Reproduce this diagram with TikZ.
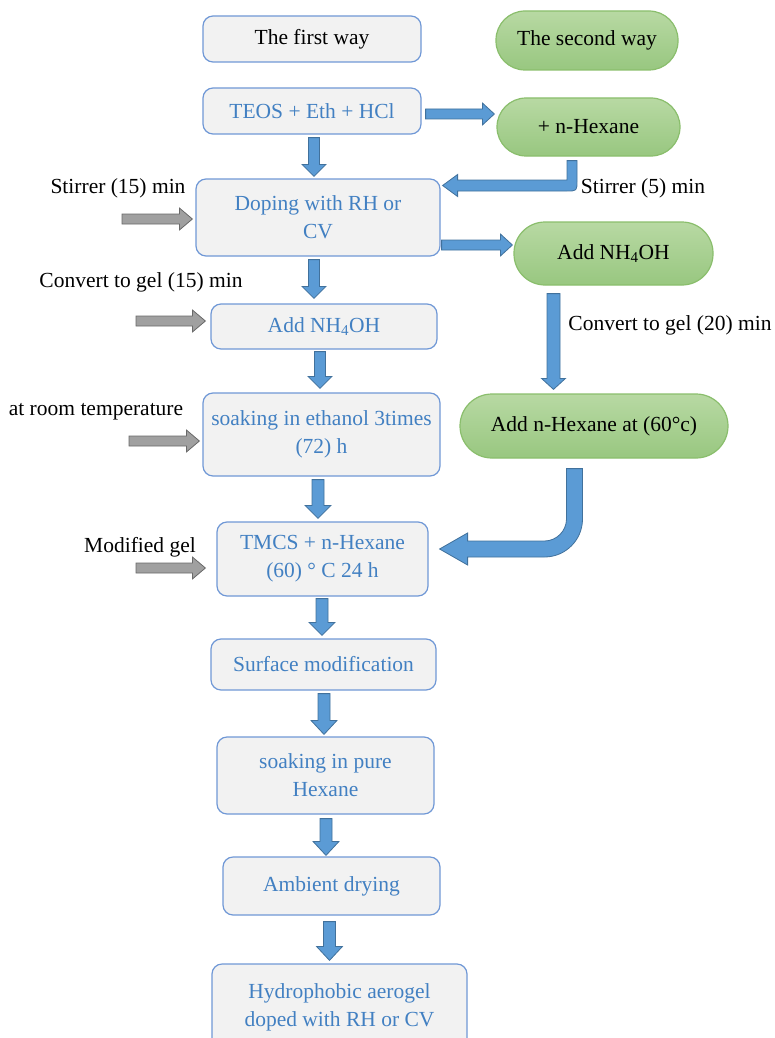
\documentclass[tikz,border=0pt]{standalone}
\usepackage{fontspec}
\setmainfont{Liberation Serif}
\usetikzlibrary{calc}
\definecolor{boxline}{RGB}{112,152,214}
\definecolor{boxfill}{RGB}{242,242,242}
\definecolor{boxtext}{RGB}{66,128,194}
\definecolor{greentop}{RGB}{184,217,163}
\definecolor{greenbot}{RGB}{152,199,128}
\definecolor{greenline}{RGB}{138,190,108}
\definecolor{arrfill}{RGB}{91,155,213}
\definecolor{arrline}{RGB}{65,113,156}
\definecolor{grayfill}{RGB}{160,160,160}
\definecolor{grayline}{RGB}{105,105,105}
\newcommand\barrow[6]{%
  \coordinate (tmpH) at ($(#3)!#6!(#2)$);
  \filldraw[#1] ($(#2)!#4!90:(#3)$) -- ($(tmpH)!#4!90:(#3)$) -- ($(tmpH)!#5!90:(#3)$) -- (#3)
    -- ($(tmpH)!#5!-90:(#3)$) -- ($(tmpH)!#4!-90:(#3)$) -- ($(#2)!#4!-90:(#3)$) -- cycle;}
\tikzset{
  txt/.style={font=\fontsize{21.5}{28}\selectfont, align=center, inner sep=0pt},
  bluebox/.style={txt, draw=boxline, line width=1.2pt, fill=boxfill, rounded corners=10pt, text=boxtext},
  greenbox/.style={txt, draw=greenline, line width=1.2pt, top color=greentop, bottom color=greenbot, text=black},
  blk/.style={fill=arrfill, draw=arrline, line width=0.8pt, line join=miter},
  gry/.style={fill=grayfill, draw=grayline, line width=0.8pt, line join=miter},
}
\begin{document}
\begin{tikzpicture}[x=1pt,y=-1pt]
\useasboundingbox (0,0) rectangle (774,1038);
% left column boxes
\node[bluebox, text=black, minimum width=218pt, minimum height=46pt] (first) at (312,39) {The first way};
\node[bluebox, minimum width=218pt, minimum height=46pt] (teos) at (312,111) {TEOS + Eth + HCl};
\node[bluebox, minimum width=244pt, minimum height=77pt] (doping) at (318,217.5) {Doping with RH or\\CV};
\node[bluebox, minimum width=226pt, minimum height=45pt] (nh4l) at (324,326.5) {Add NH\textsubscript{4}OH};
\node[bluebox, minimum width=237pt, minimum height=83pt] (soak) at (321.5,434.5) {soaking in ethanol 3times\\(72) h};
\node[bluebox, minimum width=211pt, minimum height=74pt] (tmcs) at (322.5,559) {TMCS + n-Hexane\\(60) ° C 24 h};
\node[bluebox, minimum width=225pt, minimum height=51pt] (surf) at (323.5,664.5) {Surface modification};
\node[bluebox, minimum width=217pt, minimum height=77pt] (pure) at (325.5,775.5) {soaking in pure\\Hexane};
\node[bluebox, minimum width=217pt, minimum height=58pt] (dry) at (331.5,886) {Ambient drying};
\node[bluebox, minimum width=255pt, minimum height=86pt] (hydro) at (339.5,1007) {Hydrophobic aerogel\\doped with RH or CV};
% right column boxes
\node[greenbox, rounded corners=29pt, minimum width=182pt, minimum height=59pt] (second) at (587,40.5) {The second way};
\node[greenbox, rounded corners=29pt, minimum width=183pt, minimum height=58pt] (hex) at (588.5,127) {+ n-Hexane};
\node[greenbox, rounded corners=31pt, minimum width=199pt, minimum height=63pt] (nh4r) at (613.5,253.5) {Add NH\textsubscript{4}OH};
\node[greenbox, rounded corners=32pt, minimum width=268pt, minimum height=64pt] (hex60) at (594,426) {Add n-Hexane at (60°c)};
% side labels
\node[txt] (l1) at (118,188) {Stirrer (15) min};
\node[txt] (l2) at (141,282) {Convert to gel (15) min};
\node[txt] (l3) at (96,412) {at room temperature};
\node[txt] (l4) at (140,547) {Modified gel};
\node[txt] (l5) at (643,188) {Stirrer (5) min};
\node[txt] (l6) at (670,325) {Convert to gel (20) min};
% straight blue arrows
\coordinate (a1s) at ($(teos.south)+(2,3)$);   \coordinate (a1e) at ($(doping.north)+(-4,-2)$);
\coordinate (a2s) at ($(doping.south)+(-4,3)$); \coordinate (a2e) at ($(nh4l.north)+(-10,-5)$);
\coordinate (a3s) at ($(nh4l.south)+(-4,2)$);   \coordinate (a3e) at ($(soak.north)+(-1.5,-4)$);
\coordinate (a4s) at ($(soak.south)+(-3.5,3)$); \coordinate (a4e) at ($(tmcs.north)+(-4.5,-3)$);
\coordinate (a5s) at ($(tmcs.south)+(-0.5,2)$); \coordinate (a5e) at ($(surf.north)+(-1.5,-3)$);
\coordinate (a6s) at ($(surf.south)+(0.5,3)$);  \coordinate (a6e) at ($(pure.north)+(-1.5,-2)$);
\coordinate (a7s) at ($(pure.south)+(0.5,4)$);  \coordinate (a7e) at ($(dry.north)+(-5.5,-1)$);
\coordinate (a8s) at ($(dry.south)+(-2,6)$);    \coordinate (a8e) at ($(hydro.north)+(-10,-3)$);
\coordinate (r1s) at ($(teos.east)+(4,3)$);     \coordinate (r1e) at ($(hex.west)+(-2,-13)$);
\coordinate (r2s) at ($(doping.east)+(1,27.5)$); \coordinate (r2e) at ($(nh4r.west)+(-1,-8.5)$);
\coordinate (d1s) at ($(nh4r.south)+(-60,8)$);  \coordinate (d1e) at ($(hex60.north)+(-40.5,-4)$);
\barrow{blk}{a1s}{a1e}{5.5pt}{12pt}{12pt}
\barrow{blk}{a2s}{a2e}{5.5pt}{12pt}{12pt}
\barrow{blk}{a3s}{a3e}{5.5pt}{12pt}{12pt}
\barrow{blk}{a4s}{a4e}{6pt}{13pt}{13pt}
\barrow{blk}{a5s}{a5e}{6pt}{13pt}{13pt}
\barrow{blk}{a6s}{a6e}{6pt}{13pt}{14pt}
\barrow{blk}{a7s}{a7e}{6pt}{13pt}{14pt}
\barrow{blk}{a8s}{a8e}{6pt}{13pt}{14pt}
\barrow{blk}{r1s}{r1e}{5pt}{11pt}{12pt}
\barrow{blk}{r2s}{r2e}{5pt}{11pt}{12pt}
\barrow{blk}{d1s}{d1e}{6.5pt}{12pt}{11pt}
% bent arrow: + n-Hexane -> Doping
\coordinate (b1s) at ($(hex.south)+(-16.5,4)$);
\coordinate (b1e) at ($(doping.east)+(2,-32)$);
\coordinate (b1c) at (b1s |- b1e);
\filldraw[blk] ($(b1s)+(-5,0)$) -- ($(b1s)+(5,0)$) -- ($(b1c)+(5,-5)$)
  .. controls ($(b1c)+(5,5.5)$) .. ($(b1c)+(-5,5.5)$)
  -- ($(b1e)+(15,5.5)$) -- ($(b1e)+(15,11)$) -- (b1e) -- ($(b1e)+(15,-11)$) -- ($(b1e)+(15,-5.5)$)
  -- ($(b1c)+(-5,-5.5)$) -- cycle;
% bent arrow: Add n-Hexane -> TMCS
\coordinate (b2s) at ($(hex60.south)+(-19.5,10)$);
\coordinate (b2e) at ($(tmcs.east)+(11,-10)$);
\coordinate (b2c) at (b2s |- b2e);
\filldraw[blk] ($(b2s)+(-8,0)$) -- ($(b2s)+(8,0)$) -- ($(b2c)+(8,-30)$)
  .. controls ($(b2c)+(8,-9)$) and ($(b2c)+(-9,8)$) .. ($(b2c)+(-30,8)$)
  -- ($(b2e)+(28,8)$) -- ($(b2e)+(28,16)$) -- (b2e) -- ($(b2e)+(28,-16)$) -- ($(b2e)+(28,-8)$)
  -- ($(b2c)+(-30,-8)$) .. controls ($(b2c)+(-18,-8)$) and ($(b2c)+(-8,-18)$) .. ($(b2c)+(-8,-30)$)
  -- cycle;
% gray arrows
\coordinate (g1s) at (122,219); \coordinate (g1e) at ($(doping.west)+(-3,1.5)$);
\coordinate (g2s) at (136,321); \coordinate (g2e) at ($(nh4l.west)+(-5,-5.5)$);
\coordinate (g3s) at (129,441); \coordinate (g3e) at ($(soak.west)+(-3,6.5)$);
\coordinate (g4s) at (136,568); \coordinate (g4e) at ($(tmcs.west)+(-11,9)$);
\barrow{gry}{g1s}{g1e}{5pt}{11pt}{13pt}
\barrow{gry}{g2s}{g2e}{5pt}{11pt}{13pt}
\barrow{gry}{g3s}{g3e}{5pt}{11pt}{13pt}
\barrow{gry}{g4s}{g4e}{5pt}{11pt}{13pt}
\end{tikzpicture}
\end{document}
